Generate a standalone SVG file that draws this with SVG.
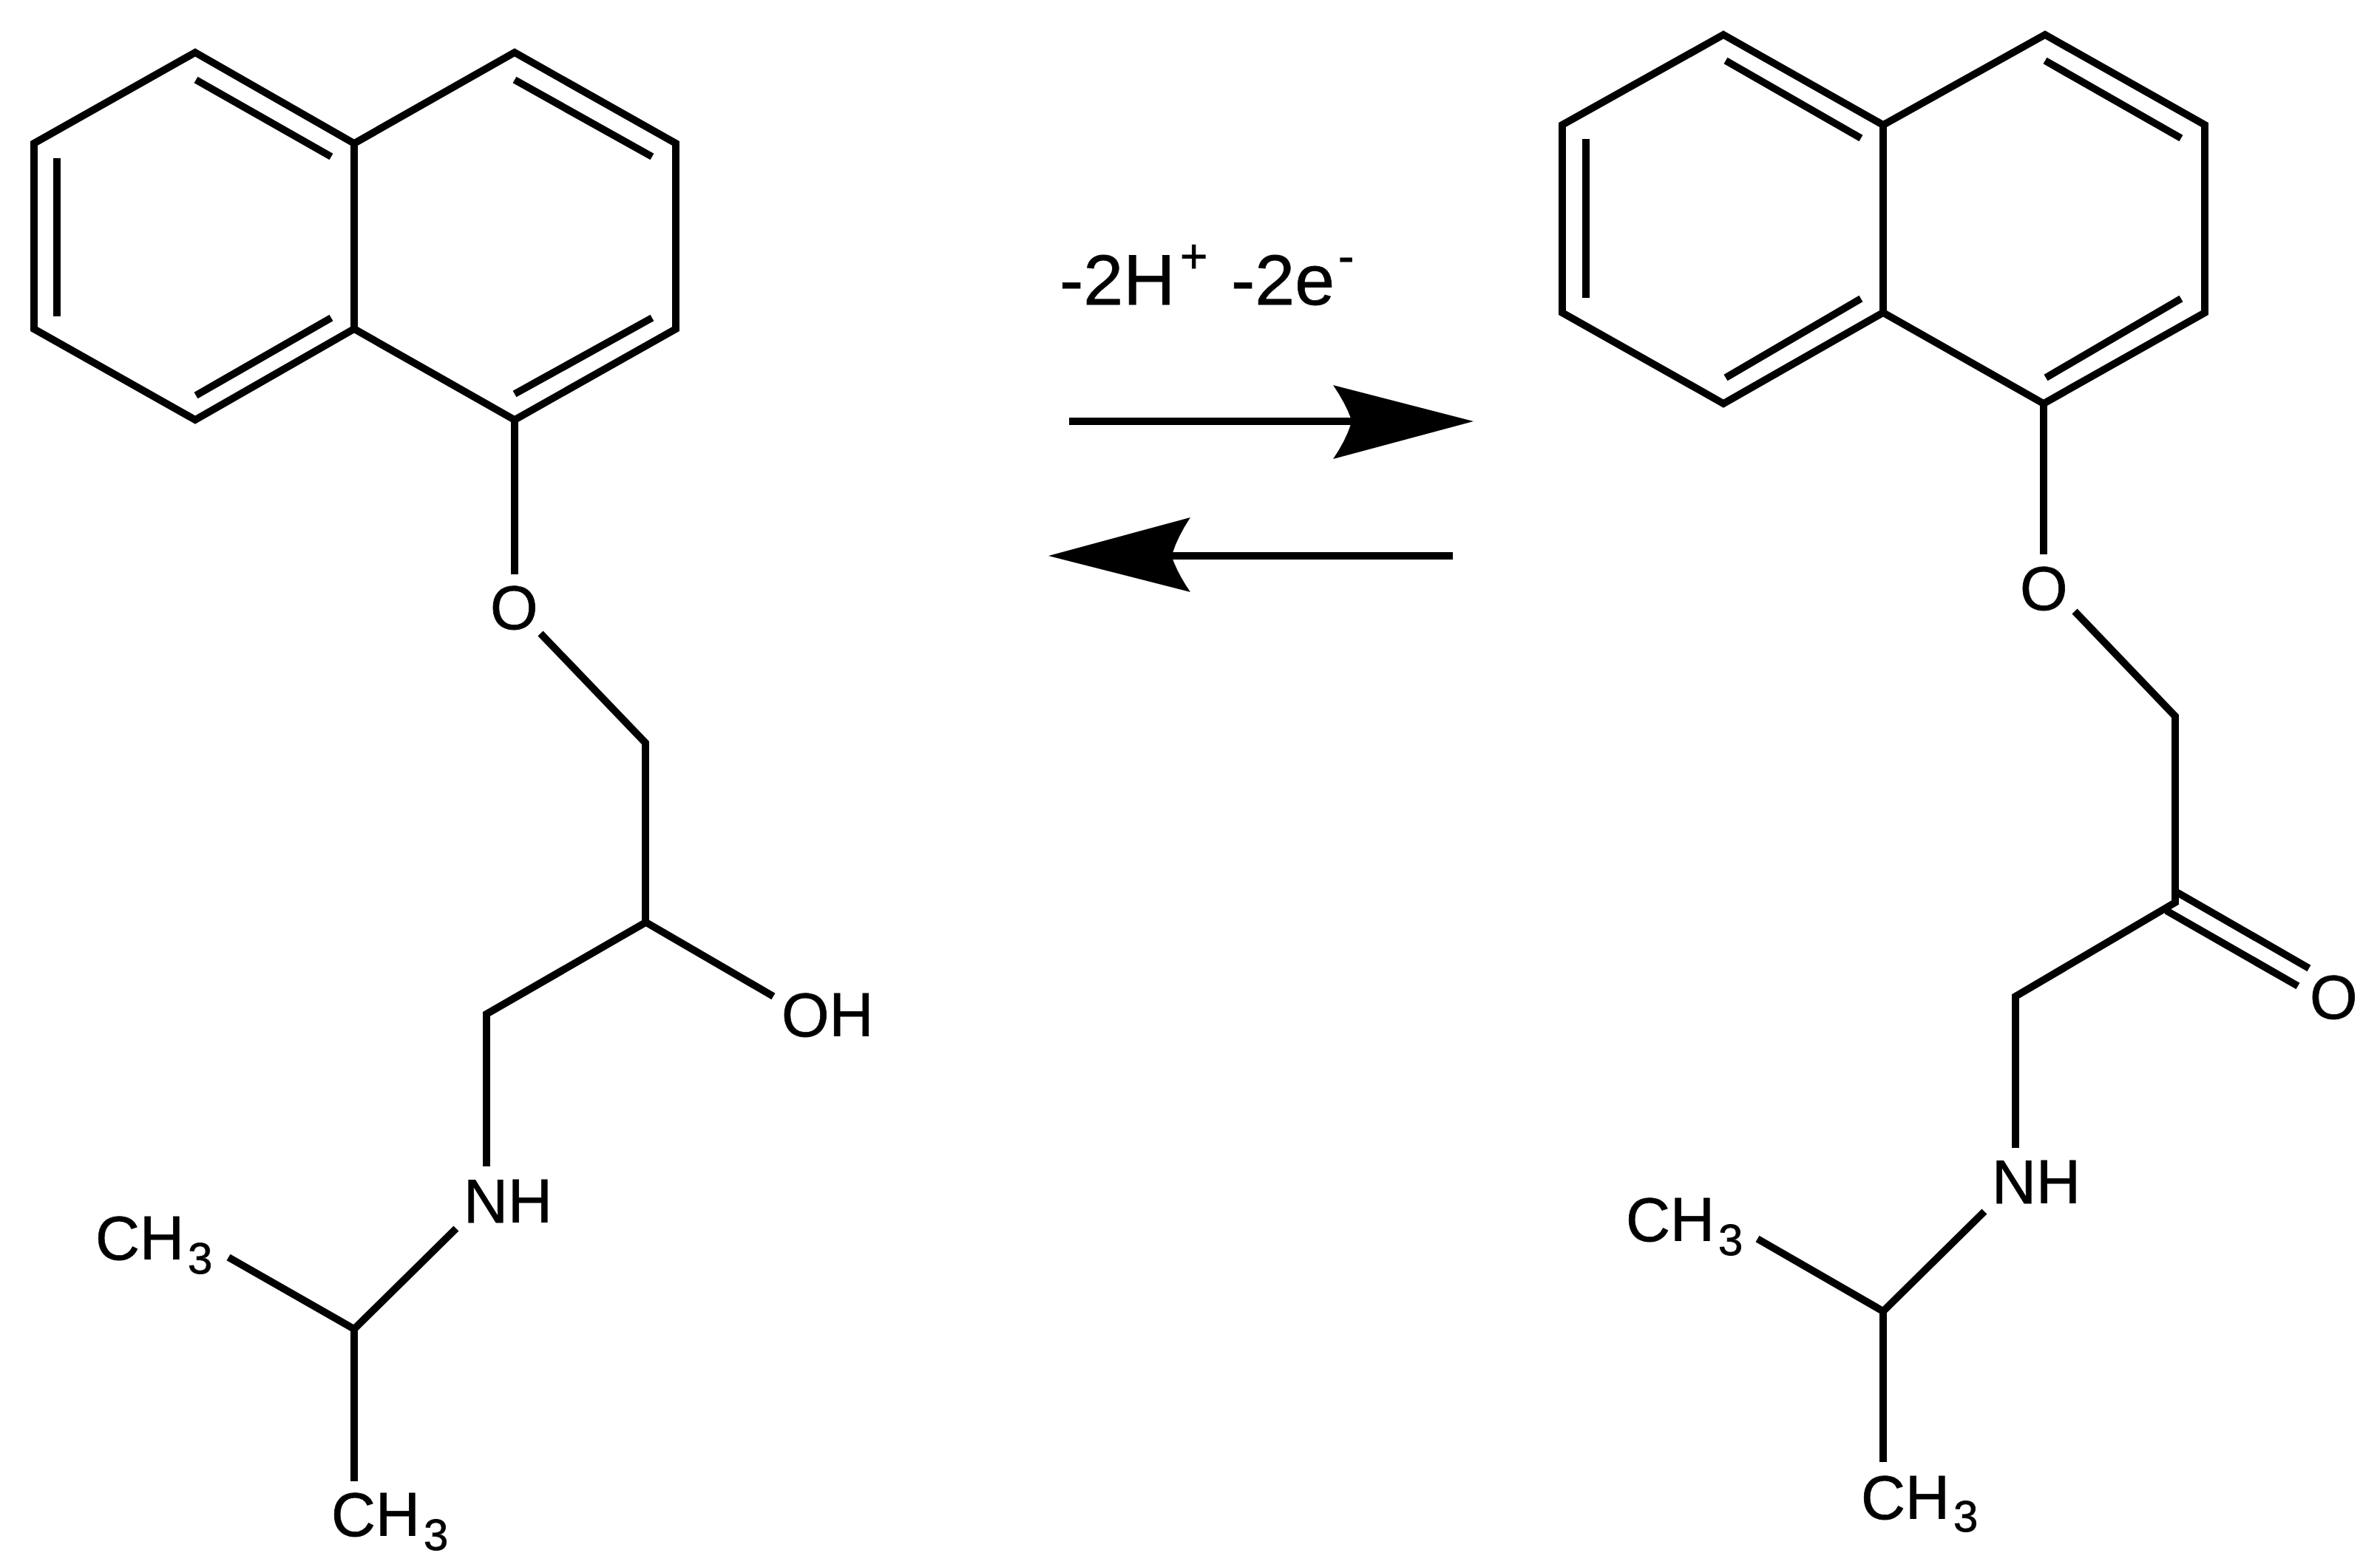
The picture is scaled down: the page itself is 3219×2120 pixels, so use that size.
<svg xmlns="http://www.w3.org/2000/svg" width="3219" height="2120" viewBox="0 0 3219 2120">
<style>
.b{fill:none;stroke:#000;stroke-width:10;stroke-linejoin:miter;stroke-linecap:butt}
.t{font-family:"Liberation Sans",Arial,sans-serif;font-size:83px;fill:#000;stroke:#000;stroke-width:.8}
.s{font-size:60px}
.r{font-size:97px}
.u{font-size:64px}
.h{fill:#000;stroke:none}
</style>
<rect width="3219" height="2120" fill="#fff"/>
<g id="left-molecule">
<path class="b" d="M264 71L479 194L696 71L914 194V445L696 568L479 445L264 568L46 445V194Z"/>
<path class="b" d="M479 194V445M265 108L448 212M77 214V428M448 430L265 535M696 108L882 212M882 430L696 533"/>
<path class="b" d="M696 568V777M731 857L873 1005V1248L658 1372V1578M874 1248L1046 1348M617 1662L479 1798L309 1701M479 1798V2004"/>
<text class="t" x="663" y="851">O</text>
<text class="t" x="1057" y="1402">OH</text>
<text class="t" x="627" y="1654">NH</text>
<text class="t" x="129" y="1704">CH</text><text class="t s" x="254" y="1723">3</text>
<text class="t" x="448" y="2078">CH</text><text class="t s" x="573" y="2097">3</text>
</g>
<g id="reaction-arrows">
<path class="b" d="M1446 570H1835M1580 752H1965"/>
<path class="h" d="M1993 570L1803 521Q1820 546 1827 566V574Q1820 596 1803 621Z"/>
<path class="h" d="M1418 752L1610 700Q1593 726 1586 748V756Q1593 776 1610 801Z"/>
<text class="t r" x="1433" y="412">-2H</text>
<text class="t u" x="1596" y="369">+</text>
<text class="t r" x="1665" y="412">-2e</text>
<text class="t u" x="1810" y="369">-</text>
</g>
<g id="right-molecule">
<path class="b" d="M2331 47L2547 169L2766 47L2982 169V423L2764 546L2547 423L2331 546L2113 423V169Z"/>
<path class="b" d="M2547 169V423M2334 82L2517 187M2145 188V403M2517 404L2334 511M2766 82L2950 187M2950 404L2767 511"/>
<path class="b" d="M2764 546V750M2806 827L2942 969V1221L2726 1348V1553M2684 1639L2547 1774L2377 1676M2547 1774V1978M2944 1207L3123 1310M2930 1232L3108 1334"/>
<text class="t" x="2732" y="825">O</text>
<text class="t" x="3124" y="1378">O</text>
<text class="t" x="2694" y="1628">NH</text>
<text class="t" x="2199" y="1679">CH</text><text class="t s" x="2324" y="1698">3</text>
<text class="t" x="2517" y="2055">CH</text><text class="t s" x="2642" y="2072">3</text>
</g>
</svg>
